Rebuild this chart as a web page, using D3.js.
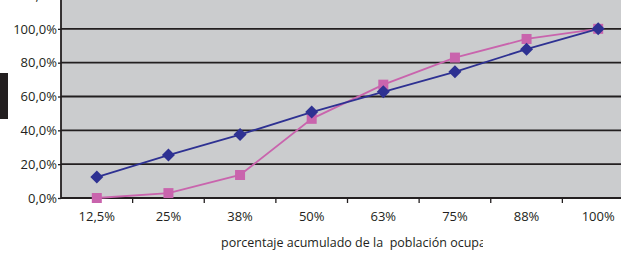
<!DOCTYPE html>
<html>
<head>
<meta charset="utf-8">
<script src="https://cdn.jsdelivr.net/npm/d3@7"></script>
<style>
  body { margin: 0; background: #fff; }
  text { font-family: "Open Sans", "Noto Sans", sans-serif; }
</style>
</head>
<body>
<svg id="chart" width="621" height="254"></svg>
<script>
// categorias (porcentaje acumulado de la poblacion ocupada)
const categories = ["12,5%", "25%", "38%", "50%", "63%", "75%", "88%", "100%"];
const serieAzul = [0.124, 0.254, 0.375, 0.508, 0.628, 0.746, 0.88, 1.0];
const serieRosa = [0.0, 0.029, 0.136, 0.468, 0.67, 0.83, 0.94, 1.0];
const yTicks = [0, 0.2, 0.4, 0.6, 0.8, 1.0, 1.2];
const xLabel = "porcentaje acumulado de la  población ocupada";

const svg = d3.select("#chart");

const plotLeft = 61, plotRight = 634, plotTop = -5, plotBottom = 198;

const x = d3.scaleBand().domain(categories).range([plotLeft, plotRight]);
const y = d3.scaleLinear().domain([0, 1.2]).range([plotBottom, plotTop]);

// fondo del area de trazado
svg.append("rect")
    .attr("x", plotLeft).attr("y", 0)
    .attr("width", plotRight - plotLeft).attr("height", plotBottom)
    .attr("fill", "#cbccce");

// lineas de cuadricula
svg.append("g").selectAll("line")
    .data(yTicks.filter(d => d > 0))
    .enter().append("line")
    .attr("x1", plotLeft).attr("x2", plotRight)
    .attr("y1", d => y(d)).attr("y2", d => y(d))
    .attr("stroke", "#231f20").attr("stroke-width", 1.8);

// eje Y
const fmt = d => d3.format(".1f")(d * 100).replace(".", ",") + "%";
const yAxis = svg.append("g")
    .attr("transform", `translate(${plotLeft},0)`)
    .call(d3.axisLeft(y).tickValues(yTicks).tickFormat(fmt).tickSize(3).tickPadding(1));
yAxis.select(".domain").remove();
yAxis.append("line").attr("x1", 0).attr("x2", 0).attr("y1", 0).attr("y2", plotBottom)
    .attr("stroke", "#231f20").attr("stroke-width", 1.8);
yAxis.selectAll(".tick line").attr("stroke", "#231f20").attr("stroke-width", 1.3);
yAxis.selectAll(".tick text").attr("font-size", 13).attr("fill", "#231f20");

// eje X
const xAxis = svg.append("g")
    .attr("transform", `translate(0,${plotBottom})`)
    .call(d3.axisBottom(x).tickSize(0).tickPadding(14));
xAxis.select(".domain").remove();
xAxis.append("line").attr("x1", plotLeft).attr("x2", plotRight)
    .attr("stroke", "#231f20").attr("stroke-width", 1.8);
xAxis.selectAll(".tick text").attr("font-size", 13).attr("fill", "#231f20");
// marcas entre categorias
xAxis.selectAll(".sep")
    .data(categories.slice(1))
    .enter().append("line")
    .attr("x1", d => x(d)).attr("x2", d => x(d))
    .attr("y1", 0).attr("y2", 5)
    .attr("stroke", "#231f20").attr("stroke-width", 1.3);

// titulo del eje X, recortado como en el original
svg.append("clipPath").attr("id", "clipLabel")
    .append("rect").attr("x", 0).attr("y", 220).attr("width", 483).attr("height", 34);
svg.append("text")
    .attr("x", 221).attr("y", 247)
    .attr("font-size", 12.5).attr("fill", "#231f20")
    .style("white-space", "pre")
    .attr("clip-path", "url(#clipLabel)")
    .text(xLabel);

const cx = d => x(d) + x.bandwidth() / 2;
const line = d3.line().x((d, i) => cx(categories[i])).y(d => y(d));

// serie rosa
svg.append("path").datum(serieRosa)
    .attr("d", line).attr("fill", "none")
    .attr("stroke", "#c964ad").attr("stroke-width", 1.8);
svg.selectAll(".sq").data(serieRosa).enter().append("rect")
    .attr("x", (d, i) => cx(categories[i]) - 5)
    .attr("y", d => y(d) - 5)
    .attr("width", 10).attr("height", 10)
    .attr("fill", "#c964ad");

// serie azul
svg.append("path").datum(serieAzul)
    .attr("d", line).attr("fill", "none")
    .attr("stroke", "#2e3192").attr("stroke-width", 1.8);
svg.selectAll(".dm").data(serieAzul).enter().append("path")
    .attr("transform", (d, i) => `translate(${cx(categories[i])},${y(d)})`)
    .attr("d", "M0,-6.5L6.5,0L0,6.5L-6.5,0Z")
    .attr("fill", "#2e3192");

// marca negra del borde izquierdo
svg.append("rect").attr("x", 0).attr("y", 73).attr("width", 8).attr("height", 46)
    .attr("fill", "#231f20");
</script>
</body>
</html>
